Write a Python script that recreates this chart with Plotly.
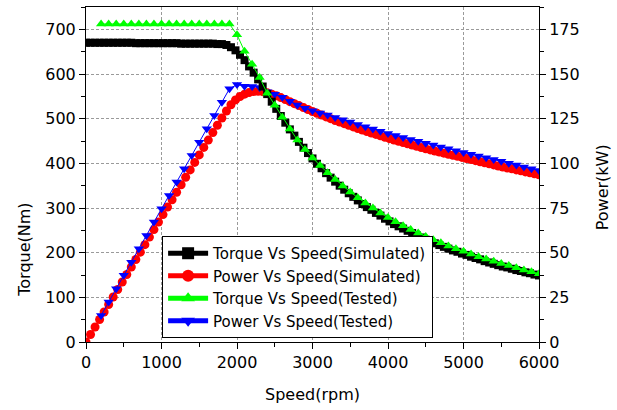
import plotly.graph_objects as go

# ---------------- data ----------------
speed_sim = [0, 60, 120, 180, 240, 300, 360, 420, 480, 540, 600, 660, 720, 780, 840, 900,
             960, 1020, 1080, 1140, 1200, 1260, 1320, 1380, 1440, 1500, 1560, 1620, 1680,
             1740, 1800, 1860, 1920, 1980, 2040, 2100, 2160, 2220, 2280, 2340, 2400, 2460,
             2520, 2580, 2640, 2700, 2760, 2820, 2880, 2940, 3000, 3060, 3120, 3180, 3240,
             3300, 3360, 3420, 3480, 3540, 3600, 3660, 3720, 3780, 3840, 3900, 3960, 4020,
             4080, 4140, 4200, 4260, 4320, 4380, 4440, 4500, 4560, 4620, 4680, 4740, 4800,
             4860, 4920, 4980, 5040, 5100, 5160, 5220, 5280, 5340, 5400, 5460, 5520, 5580,
             5640, 5700, 5760, 5820, 5880, 5940, 6000]

torque_sim = [670, 670, 670, 670, 670, 670, 670, 670, 670, 670, 670, 669, 669, 669, 669, 669,
              669, 669, 669, 669, 669, 668, 668, 668, 668, 668, 668, 668, 668,
              667, 667, 665, 660, 653, 643, 631, 617, 603, 588, 572, 555, 538,
              522, 506, 491, 476, 462, 448, 435, 423, 411, 399, 389, 378, 368,
              359, 350, 341, 333, 325, 317, 309, 302, 296, 289, 283, 276, 270,
              264, 259, 254, 249, 244, 239, 234, 229, 225, 221, 217, 213, 209,
              205, 202, 198, 195, 191, 188, 185, 181, 178, 175, 172, 169, 167,
              164, 161, 159, 156, 154, 151, 149]

power_sim = [0.0, 4.2, 8.4, 12.6, 16.8, 21.0, 25.2, 29.4, 33.6, 37.8, 42.0, 46.2, 50.3, 54.5,
             58.7, 62.9, 67.1, 71.3, 75.5, 79.6, 83.8, 88.0, 92.2, 96.3, 100.5, 104.7, 108.9,
             113.0, 117.2, 121.3, 125.4, 129.3, 132.8, 135.5, 137.4, 138.7, 139.6, 140.2,
             140.3, 140.1, 139.5, 138.7, 137.8, 136.8, 135.7, 134.5, 133.4, 132.3, 131.2,
             130.1, 129.0, 128.0, 127.0, 126.0, 125.0, 124.0, 123.1, 122.2, 121.3, 120.4,
             119.5, 118.6, 117.8, 117.0, 116.2, 115.4, 114.6, 113.8, 113.0, 112.3, 111.6,
             110.9, 110.2, 109.5, 108.8, 108.1, 107.5, 106.9, 106.3, 105.7, 105.1, 104.5,
             103.9, 103.3, 102.7, 102.1, 101.5, 100.9, 100.3, 99.7, 99.1, 98.5, 97.9, 97.4,
             96.9, 96.3, 95.8, 95.2, 94.7, 94.1, 93.6]

speed_test = [200, 300, 400, 500, 600, 700, 800, 900, 1000, 1100, 1200, 1300, 1400, 1500,
              1600, 1700, 1800, 1900, 2000, 2100, 2200, 2300, 2400, 2500, 2600, 2700, 2800,
              2900, 3000, 3100, 3200, 3300, 3400, 3500, 3600, 3700, 3800, 3900, 4000, 4100,
              4200, 4300, 4400, 4500, 4600, 4700, 4800, 4900, 5000, 5100, 5200, 5300, 5400,
              5500, 5600, 5700, 5800, 5900, 6000]

torque_test = [712, 712, 712, 712, 712, 712, 712, 712, 712, 712, 712, 712, 712, 712,
               712, 712, 712, 712, 688, 651, 622, 592, 557, 530, 503, 477, 452,
               431, 412, 395, 379, 364, 349, 336, 323, 311, 300, 289, 279, 269,
               260, 252, 244, 236, 229, 222, 215, 209, 203, 197, 191, 186, 181,
               176, 171, 166, 161, 157, 153]

power_test = [14.9, 22.4, 29.8, 37.3, 44.7, 52.2, 59.6, 67.1, 74.6, 82.0, 89.5, 96.9, 104.4,
              111.8, 119.3, 126.8, 134.2, 141.7, 144.1, 143.2, 143.0, 142.5, 140.0, 138.7,
              137.0, 134.8, 132.6, 130.8, 129.5, 128.2, 127.0, 125.7, 124.4, 123.1, 121.8,
              120.5, 119.2, 117.9, 116.7, 115.6, 114.5, 113.4, 112.3, 111.2, 110.2, 109.2,
              108.1, 107.1, 106.1, 105.1, 104.1, 103.1, 102.1, 101.1, 100.0, 99.0, 98.0,
              97.0, 96.0]

names = ["Torque Vs Speed(Simulated)", "Power Vs Speed(Simulated)",
         "Torque Vs Speed(Tested)", "Power Vs Speed(Tested)"]

x_title = "Speed(rpm)"
y_left_title = "Torque(Nm)"
y_right_title = "Power(kW)"

FONT = "DejaVu Sans, Liberation Sans, Arial, sans-serif"

fig = go.Figure()

# power traces on the main (right) axis, torque traces on overlaid left axis (drawn on top)
fig.add_trace(go.Scatter(x=speed_sim, y=power_sim, name=names[1], yaxis="y",
                         mode="lines+markers", line=dict(color="red", width=1),
                         marker=dict(symbol="circle", size=9, color="red"), legendrank=2))
fig.add_trace(go.Scatter(x=speed_test, y=power_test, name=names[3], yaxis="y",
                         mode="lines+markers", line=dict(color="blue", width=1),
                         marker=dict(symbol="triangle-down", size=9, color="blue"), legendrank=4))
fig.add_trace(go.Scatter(x=speed_sim, y=torque_sim, name=names[0], yaxis="y2",
                         mode="lines+markers", line=dict(color="black", width=1),
                         marker=dict(symbol="square", size=8, color="black"), legendrank=1))
fig.add_trace(go.Scatter(x=speed_test, y=torque_test, name=names[2], yaxis="y2",
                         mode="lines+markers", line=dict(color="#00ff00", width=1),
                         marker=dict(symbol="triangle-up", size=9, color="#00ff00"), legendrank=3))

grid = dict(showgrid=True, gridcolor="#9a9a9a", gridwidth=1, griddash="3px,2px")

fig.update_layout(
    width=617, height=410,
    margin=dict(l=86, r=78, t=7, b=68),
    paper_bgcolor="white", plot_bgcolor="white",
    font=dict(family=FONT, size=16, color="black"),
    showlegend=True,
    legend=dict(x=0.168, y=0.012, xanchor="left", yanchor="bottom",
                bgcolor="white", bordercolor="black", borderwidth=1,
                font=dict(family=FONT, size=15), tracegroupgap=0,
                itemsizing="constant", itemwidth=40),
    xaxis=dict(range=[0, 6000], dtick=1000, tick0=0, ticks="outside", ticklen=6,
               tickwidth=1, tickcolor="black", showline=True, linecolor="black",
               linewidth=1, mirror=True, zeroline=False,
               minor=dict(dtick=500, ticks="outside", ticklen=4, tickcolor="black"),
               tickfont=dict(size=16), **grid),
    xaxis2=dict(range=[0, 6000], dtick=1000, tick0=0, overlaying="x", side="top",
                anchor="y", ticks="inside", ticklen=5, tickcolor="black",
                showticklabels=False, showline=False, showgrid=False, zeroline=False,
                minor=dict(dtick=500, ticks="inside", ticklen=3, tickcolor="black")),
    yaxis=dict(range=[0, 187.5], dtick=25, tick0=0, side="right", ticks="outside",
               ticklen=6, tickwidth=1, tickcolor="black", showline=True,
               linecolor="black", linewidth=1, zeroline=False,
               minor=dict(dtick=12.5, ticks="outside", ticklen=4, tickcolor="black"),
               tickfont=dict(size=16), **grid),
    yaxis2=dict(range=[0, 750], dtick=100, tick0=0, side="left", overlaying="y",
                ticks="outside", ticklen=6, tickwidth=1, tickcolor="black",
                showline=True, linecolor="black", linewidth=1, zeroline=False,
                showgrid=False,
                minor=dict(dtick=50, ticks="outside", ticklen=4, tickcolor="black"),
                tickfont=dict(size=16)),
    annotations=[
        dict(text=x_title, xref="paper", yref="paper", x=0.5, y=-0.158,
             xanchor="center", yanchor="middle", showarrow=False,
             font=dict(family=FONT, size=16)),
        dict(text=y_left_title, xref="paper", yref="paper", x=-0.135, y=0.275,
             xanchor="center", yanchor="middle", textangle=-90, showarrow=False,
             font=dict(family=FONT, size=16)),
        dict(text=y_right_title, xref="paper", yref="paper", x=1.14, y=0.463,
             xanchor="center", yanchor="middle", textangle=-90, showarrow=False,
             font=dict(family=FONT, size=16)),
    ],
)

fig.write_html("out.html")
